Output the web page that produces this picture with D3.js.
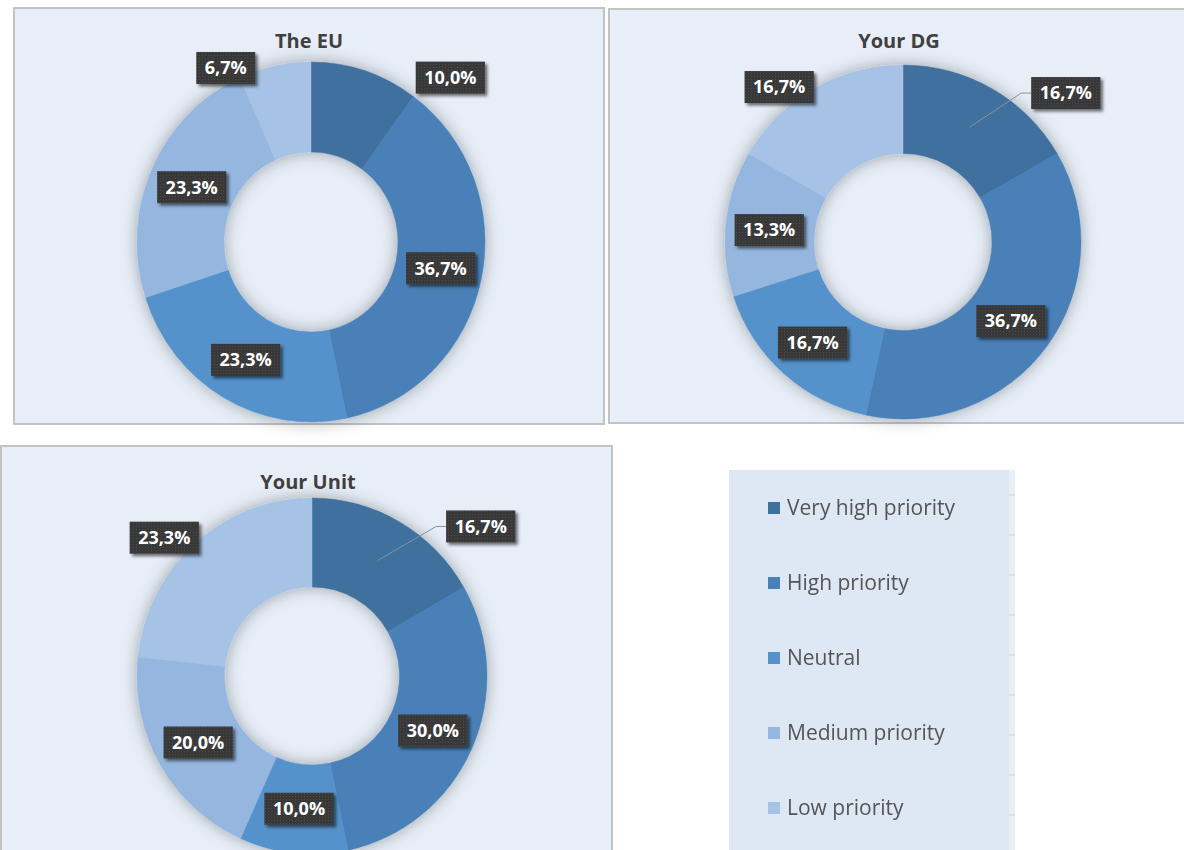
<!DOCTYPE html>
<html>
<head>
<meta charset="utf-8">
<script src="https://cdn.jsdelivr.net/npm/d3@7"></script>
<style>
  html, body { margin: 0; padding: 0; background: #ffffff; }
  svg { display: block; font-family: "Open Sans", "Noto Sans", sans-serif; }
</style>
</head>
<body>
<svg id="chart" width="1184" height="850"></svg>
<script>
// ---- data ----
const categories = ["Very high priority", "High priority", "Neutral", "Medium priority", "Low priority"];
const euValues   = [10.0, 36.7, 23.3, 23.3, 6.7];
const dgValues   = [16.7, 36.7, 16.7, 13.3, 16.7];
const unitValues = [16.7, 30.0, 10.0, 20.0, 23.3];
const chartTitles = ["The EU", "Your DG", "Your Unit"];

// ---- styling ----
const sliceColors = ["#41709d", "#4a80b7", "#5592cb", "#95b7df", "#a6c2e5"];
const panelFill = "#e7eef7";
const panelStroke = "#c3c3c3";

// frame, ring centre/radii, title baseline and per-slice label offsets (px from the slice centroid)
const panels = [
  { title: chartTitles[0], values: euValues,   frame: [14, 8, 590, 416],  cx: 311, cy: 242, rx: 174, ry: 180, titleX: 309, titleY: 48,
    nudges: [[99, -36], [2, -2], [0, 1], [0, 0], [-58, -42]], leaders: [false, false, false, false, false] },
  { title: chartTitles[1], values: dgValues,   frame: [609, 9, 600, 414], cx: 903, cy: 242, rx: 178, ry: 177, titleX: 899, titleY: 48,
    nudges: [[96, -34], [0, 1], [-1, 2], [-1, 2], [-57, -40]], leaders: [true, false, false, false, false] },
  { title: chartTitles[2], values: unitValues, frame: [1, 446, 611, 420], cx: 312, cy: 676, rx: 175, ry: 178, titleX: 308, titleY: 489,
    nudges: [[103, -34], [1, 0], [1, 0], [0, 0], [-60, -39]], leaders: [true, false, false, false, false] }
];

const fmtLocale = d3.formatLocale({ decimal: ",", thousands: ".", grouping: [3], currency: ["", "€"] });
const pctFormat = v => fmtLocale.format(".1f")(v) + "%";

const svg = d3.select("#chart");
const defs = svg.append("defs");

// soft halo around each ring
const halo = defs.append("filter").attr("id", "ringHalo")
  .attr("x", "-30%").attr("y", "-30%").attr("width", "160%").attr("height", "160%");
halo.append("feDropShadow").attr("dx", 0).attr("dy", 0).attr("stdDeviation", 8)
  .attr("flood-color", "#000").attr("flood-opacity", 0.32);

// shadow under the dark data-label boxes
const boxShadow = defs.append("filter").attr("id", "boxShadow")
  .attr("x", "-20%").attr("y", "-30%").attr("width", "150%").attr("height", "170%");
boxShadow.append("feDropShadow").attr("dx", 2.5).attr("dy", 2.5).attr("stdDeviation", 1.8)
  .attr("flood-color", "#000").attr("flood-opacity", 0.55);

// dotted texture of the label boxes
const dots = defs.append("pattern").attr("id", "dotFill")
  .attr("width", 3).attr("height", 3).attr("patternUnits", "userSpaceOnUse");
dots.append("rect").attr("width", 3).attr("height", 3).attr("fill", "#383838");
dots.append("rect").attr("x", 1).attr("y", 1).attr("width", 1).attr("height", 1).attr("fill", "#4c4c4c");

// slight softness on legend text
const soft = defs.append("filter").attr("id", "soften");
soft.append("feGaussianBlur").attr("stdDeviation", 0.55);

const color = d3.scaleOrdinal().domain(categories).range(sliceColors);
const pie = d3.pie().sort(null).value(d => d.value);

panels.forEach(p => {
  const g = svg.append("g");
  const [fx, fy, fw, fh] = p.frame;
  g.append("rect").attr("x", fx).attr("y", fy).attr("width", fw).attr("height", fh)
    .attr("fill", panelFill).attr("stroke", panelStroke).attr("stroke-width", 2);

  g.append("text").attr("x", p.titleX).attr("y", p.titleY)
    .attr("text-anchor", "middle").attr("font-size", 20).attr("font-weight", 700)
    .attr("fill", "#404040").text(p.title);

  const arc = d3.arc().innerRadius(p.rx * 0.5).outerRadius(p.rx);
  const sy = p.ry / p.rx;
  const arcs = pie(categories.map((c, i) => ({ category: c, value: p.values[i] })));

  const ring = g.append("g")
    .attr("transform", `translate(${p.cx},${p.cy}) scale(1,${sy})`)
    .attr("filter", "url(#ringHalo)");
  ring.selectAll("path").data(arcs).join("path")
    .attr("d", arc)
    .attr("fill", d => color(d.data.category))
    .attr("stroke", d => color(d.data.category))
    .attr("stroke-width", 0.5);

  // data labels
  arcs.forEach((d, i) => {
    const c = arc.centroid(d);
    const ax = p.cx + c[0], ay = p.cy + c[1] * sy;
    const nx = ax + p.nudges[i][0], ny = ay + p.nudges[i][1];
    const lg = g.append("g");
    const t = lg.append("text").attr("x", nx).attr("y", ny + 6.3)
      .attr("text-anchor", "middle").attr("font-size", 18).attr("font-weight", 700)
      .attr("fill", "#ffffff").text(pctFormat(d.data.value));
    const w = t.node().getComputedTextLength() + 17, h = 32;
    if (p.leaders[i]) {
      const bx = nx - w / 2;
      g.insert("path", () => lg.node())
        .attr("d", `M${ax},${ay}L${bx - 10},${ny}L${bx},${ny}`)
        .attr("fill", "none").attr("stroke", "#8a9199").attr("stroke-width", 1);
    }
    lg.insert("rect", "text").attr("x", nx - w / 2).attr("y", ny - h / 2)
      .attr("width", w).attr("height", h)
      .attr("fill", "url(#dotFill)").attr("filter", "url(#boxShadow)");
  });
});

// ---- legend ----
const legend = svg.append("g");
legend.append("rect").attr("x", 729).attr("y", 470).attr("width", 280).attr("height", 390).attr("fill", "#dde8f4");
legend.append("rect").attr("x", 1009).attr("y", 470).attr("width", 6).attr("height", 390).attr("fill", "#e8f0f8");
legend.selectAll("line.tick").data(d3.range(9)).join("line")
  .attr("class", "tick")
  .attr("x1", 1009).attr("x2", 1015)
  .attr("y1", k => 495 + k * 40).attr("y2", k => 495 + k * 40)
  .attr("stroke", "#d2dbe5").attr("stroke-width", 1.5);

const rowY = d3.scalePoint().domain(categories).range([508, 808]);
const items = legend.selectAll("g.item").data(categories).join("g")
  .attr("class", "item")
  .attr("transform", c => `translate(768,${rowY(c)})`)
  .attr("filter", "url(#soften)");
items.append("rect").attr("x", 0).attr("y", -6).attr("width", 12).attr("height", 12)
  .attr("fill", c => color(c));
items.append("text").attr("x", 19).attr("y", 7)
  .attr("font-size", 21).attr("fill", "#555555").text(c => c);
</script>
</body>
</html>
